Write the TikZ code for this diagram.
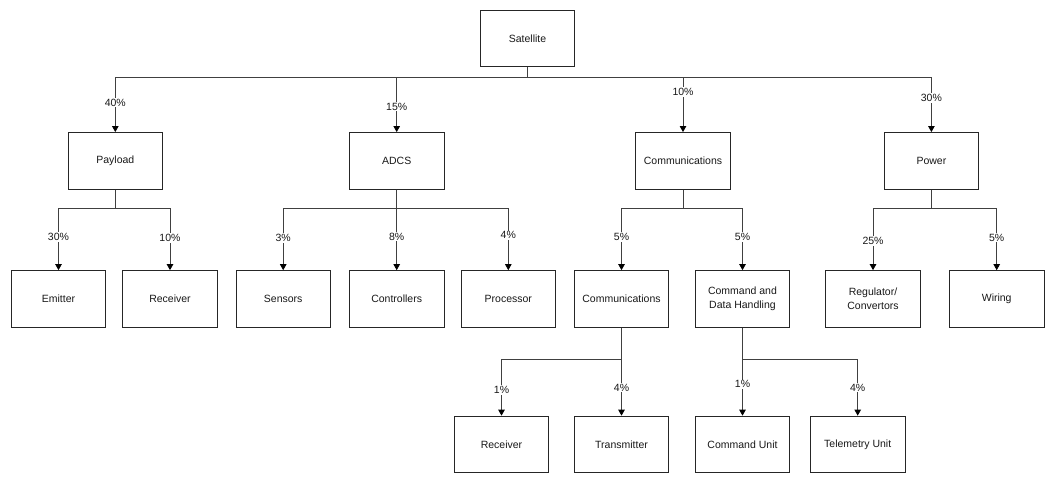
\documentclass[tikz,border=0pt]{standalone}
\usepackage{fontspec}
\setmainfont{Liberation Sans}
\usetikzlibrary{arrows.meta}
\begin{document}
\begin{tikzpicture}[x=1pt,y=-1pt,
  box/.style={draw=black!85, line width=0.8pt, minimum width=94.5pt, minimum height=56.7pt,
    inner sep=0pt, align=center, text=black!90, font=\fontsize{10.5}{14}\selectfont},
  conn/.style={draw=black!75, line width=0.8pt, -{Triangle[width=6.5pt,length=6pt,color=black]}},
  lbl/.style={fill=white, inner sep=1pt, text=black!90, font=\fontsize{10.5}{12}\selectfont}]
\useasboundingbox[fill=white] (0,0) rectangle (1054,480);
% level 0
\node[box] (sat) at (527.5,38.3) {Satellite};
% level 1
\node[box] (payload) at (115.3,160.8) {Payload};
\node[box] (adcs) at (396.7,160.8) {ADCS};
\node[box] (comm) at (683,160.8) {Communications};
\node[box] (power) at (931.4,160.8) {Power};
% level 2
\node[box] (emitter) at (58.5,298.9) {Emitter};
\node[box] (receiver) at (170,298.9) {Receiver};
\node[box] (sensors) at (283.2,298.9) {Sensors};
\node[box] (controllers) at (396.7,298.9) {Controllers};
\node[box] (processor) at (508.3,298.9) {Processor};
\node[box] (comm2) at (621.5,298.9) {Communications};
\node[box] (cdh) at (742.5,298.9) {Command and\\Data Handling};
\node[box] (reg) at (873,298.9) {Regulator/\\Convertors};
\node[box] (wiring) at (996.7,298.9) {Wiring};
% level 3
\node[box] (rx) at (501.5,444.4) {Receiver};
\node[box] (tx) at (621.5,444.4) {Transmitter};
\node[box] (cu) at (742.5,444.4) {Command Unit};
\node[box] (tu) at (857.7,444.4) {Telemetry Unit};
% connectors level 0 -> 1
\draw[conn] (sat.south) -- ++(0,10) -| node[lbl,pos=.733]{40\%} (payload.north);
\draw[conn] (sat.south) -- ++(0,10) -| node[lbl,pos=.77]{15\%} (adcs.north);
\draw[conn] (sat.south) -- ++(0,10) -| node[lbl,pos=.637]{10\%} (comm.north);
\draw[conn] (sat.south) -- ++(0,10) -| node[lbl,pos=.69]{30\%} (power.north);
% level 1 -> 2
\draw[conn] (payload.south) -- ++(0,19.3) -| node[lbl,pos=.73]{30\%} (emitter.north);
\draw[conn] (payload.south) -- ++(0,19.3) -| node[lbl,pos=.736]{10\%} (receiver.north);
\draw[conn] (adcs.south) -- ++(0,19.3) -| node[lbl,pos=.736]{3\%} (sensors.north);
\draw[conn] (adcs.south) -- ++(0,19.3) -| node[lbl,pos=.725]{8\%} (controllers.north);
\draw[conn] (adcs.south) -- ++(0,19.3) -| node[lbl,pos=.715]{4\%} (processor.north);
\draw[conn] (comm.south) -- ++(0,19.3) -| node[lbl,pos=.73]{5\%} (comm2.north);
\draw[conn] (comm.south) -- ++(0,19.3) -| node[lbl,pos=.73]{5\%} (cdh.north);
\draw[conn] (power.south) -- ++(0,19.3) -| node[lbl,pos=.763]{25\%} (reg.north);
\draw[conn] (power.south) -- ++(0,19.3) -| node[lbl,pos=.736]{5\%} (wiring.north);
% level 2 -> 3
\draw[conn] (comm2.south) -- ++(0,32) -| node[lbl,pos=.77]{1\%} (rx.north);
\draw[conn] (comm2.south) -- ++(0,32) -| node[lbl,pos=.75]{4\%} (tx.north);
\draw[conn] (cdh.south) -- ++(0,32) -| node[lbl,pos=.72]{1\%} (cu.north);
\draw[conn] (cdh.south) -- ++(0,32) -| node[lbl,pos=.75]{4\%} (tu.north);
\end{tikzpicture}
\end{document}
